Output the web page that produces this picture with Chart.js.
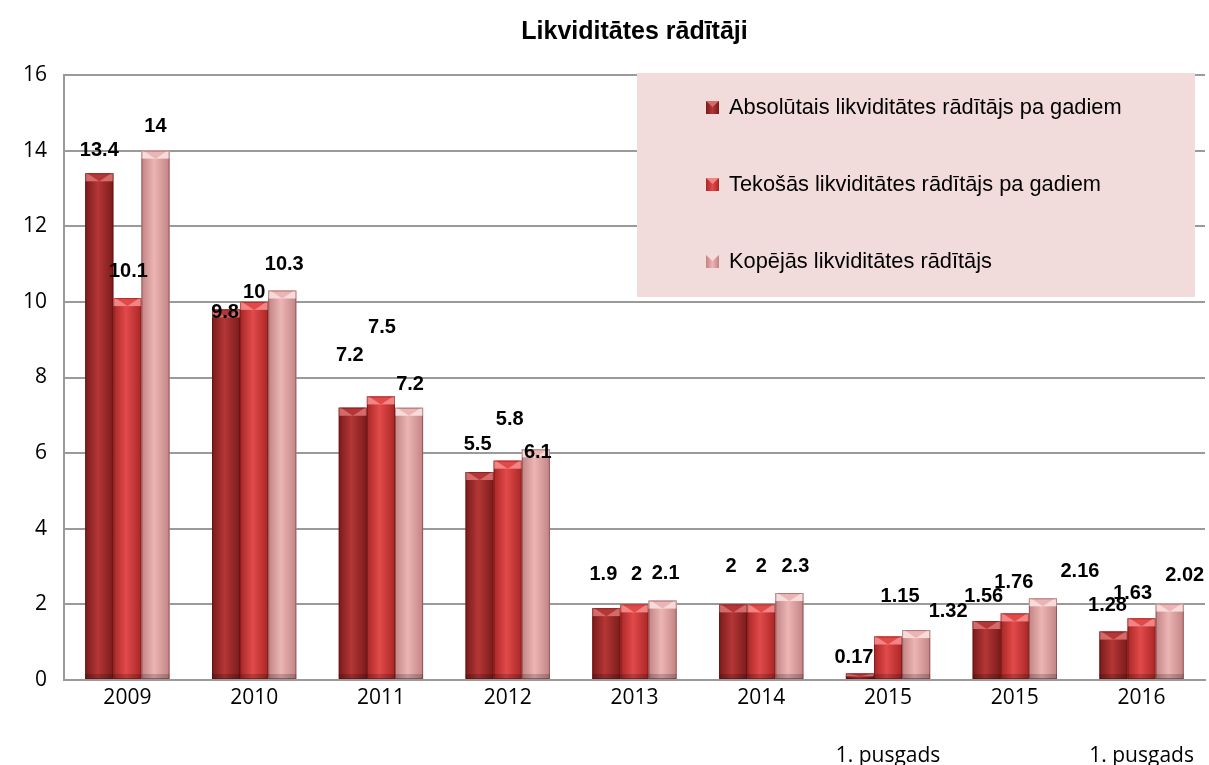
<!DOCTYPE html>
<html>
<head>
<meta charset="utf-8">
<script src="https://cdn.jsdelivr.net/npm/chart.js@4.4.0/dist/chart.umd.min.js"></script>
<style>
  html, body { margin: 0; padding: 0; background: #ffffff; }
</style>
</head>
<body>
<canvas id="grafiks" width="1209" height="765"></canvas>
<script>
'use strict';

// Dati no grafika "Likviditātes rādītāji"
const KATEGORIJAS = ['2009', '2010', '2011', '2012', '2013', '2014',
    ['2015', '', '1. pusgads'], '2015', ['2016', '', '1. pusgads']];

const ABSOLUTAIS = [13.4, 9.8, 7.2, 5.5, 1.9, 2, 0.17, 1.56, 1.28];
const TEKOSAS = [10.1, 10, 7.5, 5.8, 2, 2, 1.15, 1.76, 1.63];
const KOPEJAS = [14, 10.3, 7.2, 6.1, 2.1, 2.3, 1.32, 2.16, 2.02];

const Y_MAX = 16;
const Y_SOLIS = 2;

// Etiketes nobide attiecibā pret stabina augšu (kā Excel oriģinālā)
const NOBIDE_X = [
    [0, -1, -3, -2, -3, -2, -6, -3, -6],
    [1, 0, 1, 2, 2, 0, 12, -1, -9],
    [0, 2, 1, 2, 3, 6, 32, 37, 15]
];
const NOBIDE_Y = [
    [-23, 3, -52, -28, -34, -38, -16, -25, -26],
    [-27, -9, -69, -41, -30, -38, -40, -31, -25],
    [-24, -26, -23, 3, -27, -27, -19, -27, -28]
];

// krāsas: [mala, vidus, augša]
const KRASAS = [
    ['#7a1b1b', '#b53636', '#d46a6a'],
    ['#a92626', '#e24a4a', '#f28484'],
    ['#c28383', '#ecb5b5', '#f7dada']
];

const REZGIS = '#9a9a9a';

/**
 * Pārkrāso stabiņus ar horizontālu gradientu un slīpu augšas malu.
 */
const stabinuEfekts = {
    id: 'stabinuEfekts',
    afterDatasetsDraw(chart) {
        const ctx = chart.ctx;
        chart.data.datasets.forEach((ds, i) => {
            const meta = chart.getDatasetMeta(i);
            const k = KRASAS[i];
            meta.data.forEach((bar) => {
                const l = bar.x - bar.width / 2;
                const r = bar.x + bar.width / 2;
                const t = bar.y;
                const b = bar.base;
                const h = b - t;
                if (h <= 0) return;
                const g = ctx.createLinearGradient(l, 0, r, 0);
                g.addColorStop(0, k[0]);
                g.addColorStop(0.45, k[1]);
                g.addColorStop(1, k[0]);
                ctx.save();
                ctx.fillStyle = g;
                ctx.fillRect(l, t, r - l, h);
                // augšas slīpums
                const cap = Math.min(8, h / 2);
                ctx.fillStyle = k[2];
                ctx.fillRect(l, t, r - l, cap);
                ctx.beginPath();
                ctx.moveTo(l + 2, t);
                ctx.lineTo(r - 2, t);
                ctx.lineTo(bar.x, t + cap);
                ctx.closePath();
                ctx.fillStyle = k[1];
                ctx.fill();
                // apakšas ēna
                const bot = Math.min(5, h / 3);
                ctx.fillStyle = 'rgba(0,0,0,0.18)';
                ctx.fillRect(l, b - bot, r - l, bot);
                ctx.strokeStyle = 'rgba(60,0,0,0.35)';
                ctx.lineWidth = 1;
                ctx.strokeRect(l + 0.5, t + 0.5, r - l - 1, h - 1);
                ctx.restore();
            });
        });
    }
};

/**
 * Datu etiketes virs stabiņiem.
 */
const etiketes = {
    id: 'etiketes',
    afterDatasetsDraw(chart) {
        const ctx = chart.ctx;
        ctx.save();
        ctx.font = 'bold 20px "Liberation Sans", Arial, sans-serif';
        ctx.fillStyle = '#000000';
        ctx.textAlign = 'center';
        ctx.textBaseline = 'middle';
        chart.data.datasets.forEach((ds, i) => {
            const meta = chart.getDatasetMeta(i);
            meta.data.forEach((bar, j) => {
                ctx.fillText(String(ds.data[j]), bar.x + NOBIDE_X[i][j], bar.y + NOBIDE_Y[i][j]);
            });
        });
        ctx.restore();
    }
};

/**
 * Leģenda iekrāsotā laukumā grafika augšējā labajā stūrī.
 */
const legendasLaukums = {
    id: 'legendasLaukums',
    beforeDatasetsDraw(chart) {
        const ctx = chart.ctx;
        const a = chart.chartArea;
        const x = a.left + 573;
        const y = a.top - 2;
        const w = 558;
        const h = 224;
        ctx.save();
        ctx.fillStyle = '#f2dcdb';
        ctx.fillRect(x, y, w, h);
        ctx.font = '21.8px "Liberation Sans", Arial, sans-serif';
        ctx.textBaseline = 'middle';
        ctx.textAlign = 'left';
        chart.data.datasets.forEach((ds, i) => {
            const cy = y + 35 + i * 77;
            const mx = x + 69;
            const g = ctx.createLinearGradient(mx, 0, mx + 13, 0);
            g.addColorStop(0, KRASAS[i][0]);
            g.addColorStop(0.5, KRASAS[i][1]);
            g.addColorStop(1, KRASAS[i][0]);
            ctx.fillStyle = g;
            ctx.fillRect(mx, cy - 7, 13, 13);
            ctx.fillStyle = KRASAS[i][2];
            ctx.beginPath();
            ctx.moveTo(mx, cy - 7);
            ctx.lineTo(mx + 13, cy - 7);
            ctx.lineTo(mx + 6.5, cy - 1);
            ctx.closePath();
            ctx.fill();
            ctx.fillStyle = '#000000';
            ctx.fillText(ds.label, x + 92, cy);
        });
        ctx.restore();
    }
};

new Chart(document.getElementById('grafiks'), {
    type: 'bar',
    data: {
        labels: KATEGORIJAS,
        datasets: [
            {
                label: 'Absolūtais likviditātes rādītājs pa gadiem',
                data: ABSOLUTAIS,
                backgroundColor: KRASAS[0][1]
            },
            {
                label: 'Tekošās likviditātes rādītājs pa gadiem',
                data: TEKOSAS,
                backgroundColor: KRASAS[1][1]
            },
            {
                label: 'Kopējās likviditātes rādītājs',
                data: KOPEJAS,
                backgroundColor: KRASAS[2][1]
            }
        ]
    },
    options: {
        responsive: false,
        animation: false,
        devicePixelRatio: 1,
        layout: { padding: { left: 0, right: 4, top: 0, bottom: 0 } },
        datasets: {
            bar: {
                categoryPercentage: 0.665,
                barPercentage: 1.0
            }
        },
        plugins: {
            legend: { display: false },
            tooltip: { enabled: false },
            title: {
                display: true,
                text: 'Likviditātes rādītāji',
                fullSize: false,
                color: '#000000',
                font: { family: '"Liberation Sans", Arial, sans-serif', size: 25, weight: 'bold', lineHeight: 1.2 },
                padding: { top: 17, bottom: 28 }
            }
        },
        scales: {
            x: {
                grid: { display: false, drawTicks: false },
                border: { display: true, color: REZGIS, width: 2 },
                ticks: {
                    color: '#000000',
                    padding: 4,
                    maxRotation: 0,
                    autoSkip: false,
                    font: { family: '"Open Sans", sans-serif', size: 21, lineHeight: 1.38 }
                },
                afterFit(scale) { scale.height = 85; }
            },
            y: {
                min: 0,
                max: Y_MAX,
                grid: { color: REZGIS, lineWidth: 2, drawTicks: false },
                border: { display: true, color: REZGIS, width: 2 },
                ticks: {
                    stepSize: Y_SOLIS,
                    color: '#000000',
                    padding: 17,
                    font: { family: '"Open Sans", sans-serif', size: 21 }
                },
                afterFit(scale) { scale.width = 64; }
            }
        }
    },
    plugins: [legendasLaukums, stabinuEfekts, etiketes]
});
</script>
</body>
</html>
